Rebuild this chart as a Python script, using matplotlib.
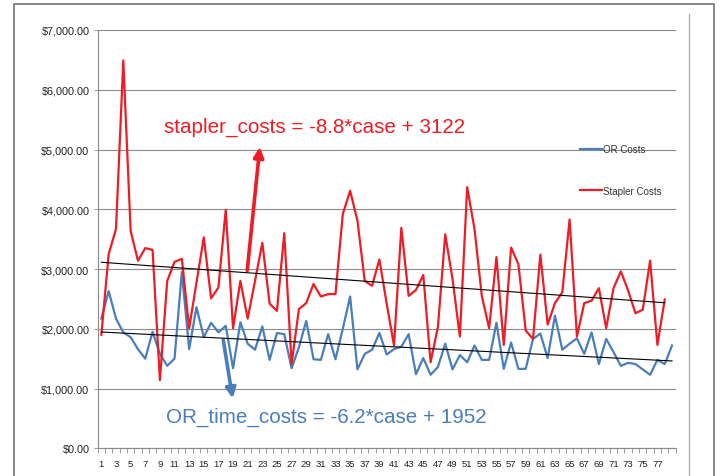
import numpy as np
import matplotlib
matplotlib.use('Agg')
import matplotlib.pyplot as plt
from matplotlib.lines import Line2D
from matplotlib.ticker import FuncFormatter, MultipleLocator

plt.rcParams['font.family'] = ['Liberation Sans', 'DejaVu Sans']

# 数据：每个病例的费用
stapler_costs = [1900, 3250, 3670, 6490, 3640, 3140, 3350, 3320, 1140, 2800,
                 3120, 3170, 2010, 2770, 3530, 2510, 2690, 3990, 2010, 2800,
                 2170, 2800, 3440, 2420, 2300, 3600, 1410, 2330, 2430, 2750,
                 2540, 2580, 2580, 3920, 4310, 3810, 2800, 2720, 3160, 2420,
                 1720, 3690, 2550, 2650, 2900, 1440, 2030, 3580, 2830, 1870,
                 4370, 3670, 2550, 2010, 3200, 1730, 3360, 3080, 1970, 1830,
                 3240, 2070, 2430, 2610, 3830, 1870, 2430, 2470, 2680, 2010,
                 2680, 2960, 2640, 2260, 2320, 3140, 1730, 2490]
or_costs = [2170, 2630, 2170, 1940, 1860, 1660, 1500, 1950, 1580, 1380,
            1500, 2950, 1660, 2360, 1860, 2100, 1940, 2050, 1340, 2110,
            1750, 1650, 2040, 1480, 1930, 1910, 1340, 1690, 2130, 1490,
            1480, 1910, 1490, 2000, 2540, 1320, 1580, 1650, 1930, 1570,
            1660, 1700, 1910, 1240, 1510, 1230, 1360, 1750, 1320, 1560,
            1440, 1720, 1480, 1480, 2100, 1330, 1770, 1330, 1330, 1830,
            1920, 1510, 2220, 1650, 1750, 1840, 1580, 1940, 1410, 1830,
            1610, 1380, 1430, 1410, 1320, 1230, 1480, 1410, 1720]

# 趋势线系数
stapler_slope, stapler_intercept = -8.8, 3122
or_slope, or_intercept = -6.2, 1952

n_cases = 79
x_labels = list(range(1, 78, 2))

red = '#ee1c24'
blue = '#4a7ebb'
grid_grey = '#8a8a8a'

fig = plt.figure(figsize=(7.2, 4.77), dpi=100)
ax = fig.add_axes([97.7 / 720, (477 - 449.3) / 477, (675.7 - 97.7) / 720, (449.3 - 31) / 477])

case_or = np.arange(1, len(or_costs) + 1)
case_st = np.arange(1, len(stapler_costs) + 1)

ax.plot(case_or, or_costs, color=blue, lw=1.6, label='OR Costs', zorder=3)
ax.plot(case_st, stapler_costs, color=red, lw=1.6, label='Stapler Costs', zorder=3)

# 趋势线
ax.plot(case_st, stapler_slope * case_st + stapler_intercept, color='black', lw=0.8, zorder=4)
ax.plot(case_or, or_slope * case_or + or_intercept, color='black', lw=0.8, zorder=4)

ax.set_xlim(0.5, n_cases + 0.5)
ax.set_ylim(0, 7000)

ax.yaxis.set_major_locator(MultipleLocator(1000))
ax.yaxis.set_major_formatter(FuncFormatter(lambda v, p: '${:,.2f}'.format(v)))
ax.grid(axis='y', color=grid_grey, lw=0.8)
ax.set_axisbelow(True)

ax.set_xticks(x_labels)
ax.set_xticklabels([str(v) for v in x_labels])
ax.set_xticks(np.arange(0.5, n_cases + 1, 1), minor=True)
ax.tick_params(axis='x', which='major', length=0, pad=8, labelsize=6.8, colors='#222222')
ax.tick_params(axis='x', which='minor', length=3.5, width=0.6, color=grid_grey, direction='out')
ax.tick_params(axis='y', length=3, width=0.6, color=grid_grey, pad=3, labelsize=7.8)
for lab in ax.get_yticklabels():
    lab.set_color('#222222')

for s in ['top', 'right']:
    ax.spines[s].set_visible(False)
ax.spines['left'].set_color(grid_grey)
ax.spines['bottom'].set_color(grid_grey)
ax.spines['left'].set_linewidth(0.8)
ax.spines['bottom'].set_linewidth(0.8)

# 方程注释
ax.annotate('', xy=(22.7, 5090), xytext=(20.9, 2930),
            arrowprops=dict(arrowstyle='-|>,head_length=0.6,head_width=0.3', color=red, lw=2.6))
ax.text(30.1, 5390, 'stapler_costs = -8.8*case + 3122', color=red, fontsize=14.9,
        ha='center', va='center')
ax.annotate('', xy=(19.0, 790), xytext=(17.6, 1860),
            arrowprops=dict(arrowstyle='-|>,head_length=0.6,head_width=0.3', color=blue, lw=2.6))
ax.text(31.7, 540, 'OR_time_costs = -6.2*case + 1952', color=blue, fontsize=14.9,
        ha='center', va='center')

# 图例
leg = ax.legend(loc='center left', bbox_to_anchor=(580 / 720, (477 - 171) / 477),
                bbox_transform=fig.transFigure, frameon=False, fontsize=7,
                handlelength=2.3, handletextpad=0.1, labelspacing=3.2,
                borderpad=0, borderaxespad=0)
for t in leg.get_texts():
    t.set_color('#333333')

# 外框
fig.add_artist(Line2D([14 / 720, 14 / 720, 714 / 720, 714 / 720],
                      [0, (477 - 5) / 477, (477 - 5) / 477, 0],
                      color='#707070', lw=1.2))
fig.add_artist(Line2D([689 / 720, 689 / 720], [0, (477 - 15) / 477], color='#b0b0b0', lw=1.0))

fig.savefig('out.png', dpi=100)
